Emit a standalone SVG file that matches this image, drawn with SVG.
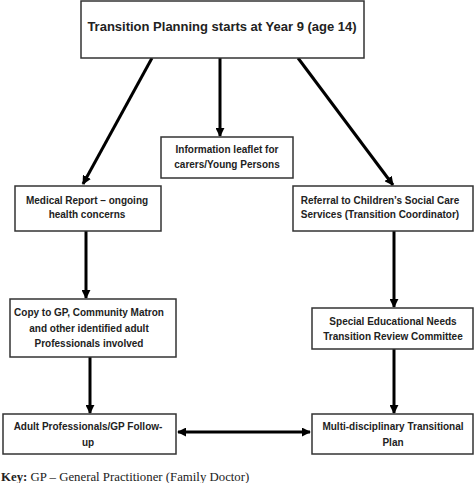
<svg xmlns="http://www.w3.org/2000/svg" width="474" height="483" viewBox="0 0 474 483">
<style>
.box{fill:#fff;stroke:#333;stroke-width:1.5}
.t{font-family:"Liberation Sans",Arial,sans-serif;font-weight:bold;font-size:10px;fill:#222;text-anchor:middle}
.title{font-size:13px}
.c{stroke:#000;stroke-width:3;fill:none}
.key{font-family:"Liberation Serif","Times New Roman",serif;font-size:12.8px;fill:#222}
</style>
<defs>
<marker id="ah" viewBox="0 0 10 10" refX="9" refY="5" markerWidth="3" markerHeight="3" orient="auto-start-reverse" markerUnits="strokeWidth">
<path d="M0,0 L10,5 L0,10 z" fill="#000"/>
</marker>
</defs>
<g id="connectors">
<line class="c" x1="152" y1="58" x2="83" y2="184" marker-end="url(#ah)"/>
<line class="c" x1="220" y1="58" x2="220" y2="136" marker-end="url(#ah)"/>
<line class="c" x1="298" y1="58" x2="393" y2="185" marker-end="url(#ah)"/>
<line class="c" x1="86" y1="231" x2="86" y2="298" marker-end="url(#ah)"/>
<line class="c" x1="394" y1="231" x2="394" y2="307" marker-end="url(#ah)"/>
<line class="c" x1="90" y1="357" x2="90" y2="413" marker-end="url(#ah)"/>
<line class="c" x1="394" y1="349" x2="394" y2="413" marker-end="url(#ah)"/>
<line class="c" x1="178" y1="432" x2="310" y2="432" marker-start="url(#ah)" marker-end="url(#ah)"/>
</g>
<g id="start">
<rect class="box" x="81" y="1" width="283" height="57"/>
<text class="t title" x="222" y="31">Transition Planning starts at Year 9 (age 14)</text>
</g>
<g id="leaflet">
<rect class="box" x="161" y="137" width="132" height="41"/>
<text class="t" x="227" y="153">Information leaflet for</text>
<text class="t" x="227" y="168">carers/Young Persons</text>
</g>
<g id="medical">
<rect class="box" x="15" y="186" width="146" height="45"/>
<text class="t" x="87" y="204">Medical Report – ongoing</text>
<text class="t" x="87" y="218">health concerns</text>
</g>
<g id="referral">
<rect class="box" x="293" y="186" width="180" height="45"/>
<text class="t" x="380" y="204">Referral to Children’s Social Care</text>
<text class="t" x="380" y="218">Services (Transition Coordinator)</text>
</g>
<g id="copy">
<rect class="box" x="10" y="299" width="166" height="58"/>
<text class="t" x="89" y="316">Copy to GP, Community Matron</text>
<text class="t" x="89" y="332">and other identified adult</text>
<text class="t" x="89" y="347">Professionals involved</text>
</g>
<g id="sen">
<rect class="box" x="312" y="308" width="161" height="41"/>
<text class="t" x="393" y="325">Special Educational Needs</text>
<text class="t" x="393" y="340">Transition Review Committee</text>
</g>
<g id="adult">
<rect class="box" x="3" y="414" width="173" height="40"/>
<text class="t" x="88" y="430">Adult Professionals/GP Follow-</text>
<text class="t" x="88" y="446">up</text>
</g>
<g id="multi">
<rect class="box" x="312" y="414" width="161" height="40"/>
<text class="t" x="393" y="430">Multi-disciplinary Transitional</text>
<text class="t" x="393" y="446">Plan</text>
</g>
<text class="key" x="1" y="481"><tspan font-weight="bold">Key:</tspan> GP – General Practitioner (Family Doctor)</text>
</svg>
